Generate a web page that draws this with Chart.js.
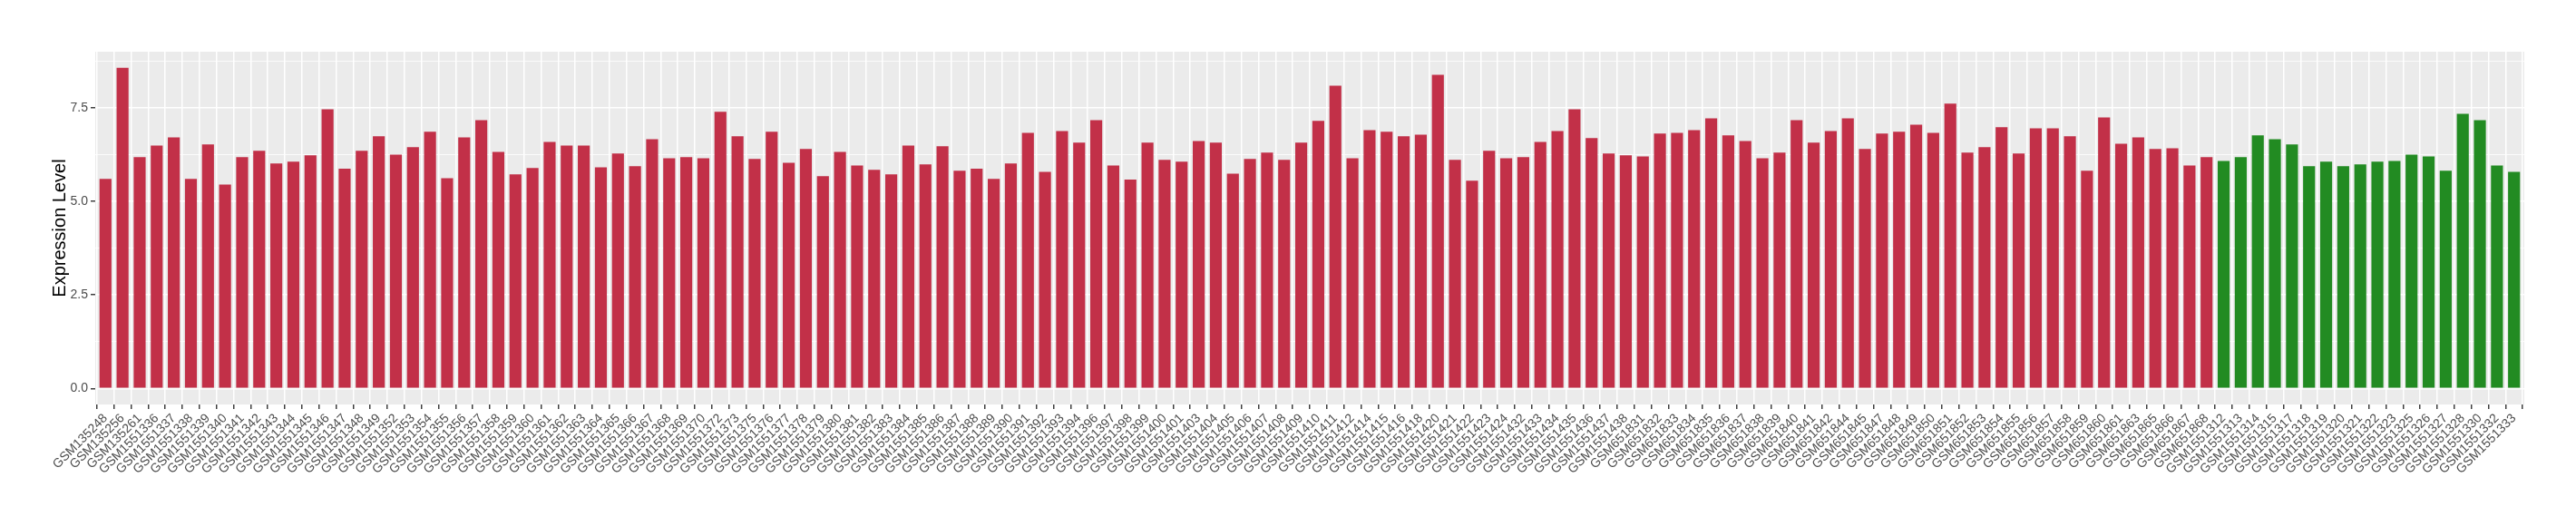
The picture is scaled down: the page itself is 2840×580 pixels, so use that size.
<!DOCTYPE html>
<html>
<head>
<meta charset="utf-8">
<script src="https://cdn.jsdelivr.net/npm/chart.js@4.4.1/dist/chart.umd.min.js"></script>
<style>
  html, body { margin: 0; padding: 0; background: #ffffff; }
  #wrap { position: relative; width: 2840px; height: 580px; }
</style>
</head>
<body>
<div id="wrap"><canvas id="c"></canvas></div>
<script>
const redSamples = [
  'GSM135248','GSM135256','GSM135261',
  'GSM1551336','GSM1551337','GSM1551338','GSM1551339','GSM1551340','GSM1551341','GSM1551342',
  'GSM1551343','GSM1551344','GSM1551345','GSM1551346','GSM1551347','GSM1551348','GSM1551349',
  'GSM1551352','GSM1551353','GSM1551354','GSM1551355','GSM1551356','GSM1551357','GSM1551358',
  'GSM1551359','GSM1551360','GSM1551361','GSM1551362','GSM1551363','GSM1551364','GSM1551365',
  'GSM1551366','GSM1551367','GSM1551368','GSM1551369','GSM1551370',
  'GSM1551372','GSM1551373',
  'GSM1551375','GSM1551376','GSM1551377','GSM1551378','GSM1551379','GSM1551380','GSM1551381',
  'GSM1551382','GSM1551383','GSM1551384','GSM1551385','GSM1551386','GSM1551387','GSM1551388',
  'GSM1551389','GSM1551390','GSM1551391','GSM1551392','GSM1551393','GSM1551394',
  'GSM1551396','GSM1551397','GSM1551398','GSM1551399','GSM1551400','GSM1551401',
  'GSM1551403','GSM1551404','GSM1551405','GSM1551406','GSM1551407','GSM1551408','GSM1551409',
  'GSM1551410','GSM1551411','GSM1551412',
  'GSM1551414','GSM1551415','GSM1551416','GSM1551418','GSM1551420','GSM1551421','GSM1551422',
  'GSM1551423','GSM1551424',
  'GSM1551432','GSM1551433','GSM1551434','GSM1551435','GSM1551436','GSM1551437','GSM1551438',
  'GSM651831','GSM651832','GSM651833','GSM651834','GSM651835','GSM651836','GSM651837',
  'GSM651838','GSM651839','GSM651840','GSM651841','GSM651842',
  'GSM651844','GSM651845',
  'GSM651847','GSM651848','GSM651849','GSM651850','GSM651851','GSM651852','GSM651853',
  'GSM651854','GSM651855','GSM651856','GSM651857','GSM651858','GSM651859','GSM651860','GSM651861',
  'GSM651863','GSM651865','GSM651866','GSM651867','GSM651868'
];
const redValues = [
  5.60, 8.57, 6.18, 6.49, 6.71, 5.60, 6.52, 5.45, 6.18, 6.35,
  6.01, 6.06, 6.23, 7.46, 5.87, 6.35, 6.74, 6.25, 6.45, 6.86,
  5.62, 6.71, 7.17, 6.32, 5.72, 5.89, 6.59, 6.49, 6.49, 5.91,
  6.28, 5.94, 6.66, 6.15, 6.18, 6.15, 7.39, 6.74, 6.13, 6.86,
  6.03, 6.40, 5.67, 6.32, 5.96, 5.84, 5.72, 6.49, 5.99, 6.47,
  5.82, 5.87, 5.60, 6.01, 6.83, 5.79, 6.88, 6.57, 7.17, 5.96,
  5.58, 6.57, 6.11, 6.06, 6.61, 6.57, 5.74, 6.13, 6.30, 6.11,
  6.57, 7.15, 8.09, 6.15, 6.90, 6.86, 6.74, 6.78, 8.38, 6.11,
  5.55, 6.35, 6.15, 6.18, 6.59, 6.88, 7.46, 6.69, 6.28, 6.23,
  6.20, 6.81, 6.83, 6.90, 7.22, 6.76, 6.61, 6.15, 6.30, 7.17,
  6.57, 6.88, 7.22, 6.40, 6.81, 6.86, 7.05, 6.83, 7.61, 6.30,
  6.45, 6.98, 6.28, 6.95, 6.95, 6.74, 5.82, 7.24, 6.54, 6.71,
  6.40, 6.42, 5.96, 6.18
];
const greenSamples = [
  'GSM1551312','GSM1551313','GSM1551314','GSM1551315','GSM1551317','GSM1551318',
  'GSM1551319','GSM1551320','GSM1551321','GSM1551322','GSM1551323','GSM1551325',
  'GSM1551326','GSM1551327','GSM1551328','GSM1551330','GSM1551332','GSM1551333'
];
const greenValues = [
  6.08, 6.18, 6.76, 6.66, 6.52, 5.94, 6.06, 5.94, 5.99, 6.06,
  6.08, 6.25, 6.20, 5.82, 7.34, 7.17, 5.96, 5.79
];
const yMajorTicks = [0, 2.5, 5, 7.5];
const yMinorTicks = [1.25, 3.75, 6.25, 8.75];
const yTitle = 'Expression Level';

const allSamples = redSamples.concat(greenSamples);
const redPoints = redValues.map((v, i) => ({ x: i, y: v }));
const greenPoints = greenValues.map((v, i) => ({ x: redSamples.length + i, y: v }));
const dataMax = Math.max(...redValues, ...greenValues);
const yMin = -0.05 * dataMax;
const yMax = dataMax * 1.05;
const yAllTicks = yMajorTicks.concat(yMinorTicks).sort((a, b) => a - b);
const isMajor = v => yMajorTicks.includes(v);

const panelBg = {
  id: 'panelBg',
  beforeDraw(chart) {
    const { ctx, chartArea: { left, top, width, height } } = chart;
    ctx.save();
    ctx.fillStyle = '#EBEBEB';
    ctx.fillRect(left, top, width, height);
    ctx.restore();
  }
};

const FONT = "'Liberation Sans', Arial, Helvetica, sans-serif";

new Chart(document.getElementById('c'), {
  type: 'bar',
  data: {
    datasets: [
      { data: redPoints, backgroundColor: '#C23048', grouped: false, barPercentage: 0.7, categoryPercentage: 1.0, borderWidth: 0 },
      { data: greenPoints, backgroundColor: '#228B22', grouped: false, barPercentage: 0.7, categoryPercentage: 1.0, borderWidth: 0 }
    ]
  },
  options: {
    responsive: true,
    maintainAspectRatio: false,
    animation: false,
    devicePixelRatio: 1,
    layout: { padding: { left: 0, right: 57, top: 57, bottom: 0 } },
    plugins: { legend: { display: false }, tooltip: { enabled: false } },
    scales: {
      x: {
        type: 'linear',
        min: -0.6,
        max: allSamples.length - 1 + 0.6,
        offset: false,
        afterBuildTicks: s => { s.ticks = allSamples.map((_, i) => ({ value: i })); },
        afterFit: s => { s.height = 134; },
        ticks: {
          autoSkip: false,
          minRotation: 45,
          maxRotation: 45,
          padding: 2,
          color: '#4D4D4D',
          font: { family: FONT, size: 14 },
          callback: v => allSamples[Math.round(v)]
        },
        grid: {
          color: '#FFFFFF',
          lineWidth: 1.5,
          drawTicks: true,
          tickLength: 5,
          tickColor: '#333333',
          tickWidth: 1.4
        },
        border: { display: false }
      },
      y: {
        min: yMin,
        max: yMax,
        afterBuildTicks: s => { s.ticks = yAllTicks.map(v => ({ value: v })); },
        afterFit: s => { s.width = 105; },
        ticks: {
          padding: 3,
          color: '#4D4D4D',
          font: { family: FONT, size: 14 },
          callback: v => isMajor(v) ? v.toFixed(1) : ''
        },
        grid: {
          color: '#FFFFFF',
          lineWidth: ctx => (ctx.tick && isMajor(ctx.tick.value)) ? 1.5 : 0.8,
          drawTicks: true,
          tickLength: 5,
          tickColor: ctx => (ctx.tick && isMajor(ctx.tick.value)) ? '#333333' : 'rgba(0,0,0,0)',
          tickWidth: 1.4
        },
        border: { display: false },
        title: {
          display: true,
          text: yTitle,
          color: '#000000',
          font: { family: FONT, size: 20 },
          padding: { top: 54, bottom: 0 }
        }
      }
    }
  },
  plugins: [panelBg]
});
</script>
</body>
</html>
